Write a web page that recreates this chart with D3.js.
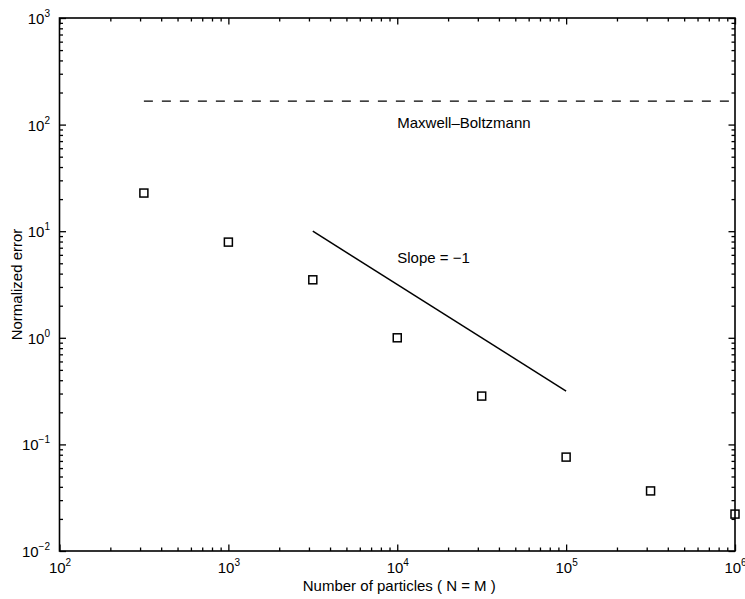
<!DOCTYPE html>
<html>
<head>
<meta charset="utf-8">
<script src="https://cdn.jsdelivr.net/npm/d3@7"></script>
<style>
  body { margin: 0; background: #fff; }
  svg { font-family: "Liberation Sans", Arial, Helvetica, sans-serif; }
</style>
</head>
<body>
<svg width="745" height="599"></svg>
<script>
// data
const particles = [316, 1000, 3162, 10000, 31623, 100000, 316228, 1000000];
const errors = [22.8, 7.9, 3.5, 1.0, 0.284, 0.076, 0.0366, 0.0222];
const mbLevel = 166;
const mbRange = [316, 1000000];
const slopeN = [3162, 100000];
const slopeErr = [10, 0.316];
const xDecades = [2, 3, 4, 5, 6];
const yDecades = [-2, -1, 0, 1, 2, 3];

const svg = d3.select("svg");
const plotL = 59.5, plotR = 735, plotT = 18, plotB = 551;

const x = d3.scaleLog().domain([1e2, 1e6]).range([plotL, plotR]);
const y = d3.scaleLog().domain([1e-2, 1e3]).range([plotB, plotT]);

// minor ticks 2..9 of each decade
const minors = (decades) => {
  const out = [];
  decades.slice(0, -1).forEach((d) => {
    for (let k = 2; k <= 9; k++) out.push(k * Math.pow(10, d));
  });
  return out;
};
const xMajor = xDecades.map((d) => Math.pow(10, d));
const yMajor = yDecades.map((d) => Math.pow(10, d));

// ===========================================================================
// frame + ticks (inward, on all four sides)
// ===========================================================================
const g = svg.append("g");

function drawAxis(axisFn, scale, major, minor, transform) {
  const a = g.append("g").attr("transform", transform);
  a.call(axisFn(scale).tickValues(minor).tickSize(-3.5).tickFormat(""));
  a.select(".domain").remove();
  const b = g.append("g").attr("transform", transform);
  b.call(axisFn(scale).tickValues(major).tickSize(-6.5).tickFormat(""));
  b.select(".domain").remove();
  g.selectAll(".tick line").attr("stroke", "#000").attr("stroke-width", 1.3);
  return b;
}

const bx = drawAxis(d3.axisBottom, x, xMajor, minors(xDecades), `translate(0,${plotB})`);
drawAxis(d3.axisTop, x, xMajor, minors(xDecades), `translate(0,${plotT})`);
const by = drawAxis(d3.axisLeft, y, yMajor, minors(yDecades), `translate(${plotL},0)`);
drawAxis(d3.axisRight, y, yMajor, minors(yDecades), `translate(${plotR},0)`);

g.append("rect")
  .attr("x", plotL)
  .attr("y", plotT)
  .attr("width", plotR - plotL)
  .attr("height", plotB - plotT)
  .attr("fill", "none")
  .attr("stroke", "#000")
  .attr("stroke-width", 1.6);

// power-of-ten labels
bx.selectAll(".tick text").each(function (d) {
  const t = d3.select(this).text(null).attr("y", 22).attr("dy", null)
    .attr("fill", "#000").attr("font-size", 15).attr("text-anchor", "middle");
  t.append("tspan").text("10");
  t.append("tspan").attr("dy", -7).attr("font-size", 10).text(Math.round(Math.log10(d)));
});

by.selectAll(".tick text").each(function (d) {
  const t = d3.select(this).text(null).attr("x", -9.5).attr("dy", 5.5)
    .attr("fill", "#000").attr("font-size", 15).attr("text-anchor", "end");
  t.append("tspan").text("10");
  const e = Math.round(Math.log10(d));
  t.append("tspan").attr("dy", -7).attr("font-size", 10).text(e < 0 ? "\u2212" + -e : e);
});

// ===========================================================================
// series
// ===========================================================================
svg.append("line")
  .attr("x1", x(mbRange[0]))
  .attr("x2", x(mbRange[1]))
  .attr("y1", y(mbLevel))
  .attr("y2", y(mbLevel))
  .attr("stroke", "#000")
  .attr("stroke-width", 1.2)
  .attr("stroke-dasharray", "9,9");

svg.append("line")
  .attr("x1", x(slopeN[0]))
  .attr("x2", x(slopeN[1]))
  .attr("y1", y(slopeErr[0]))
  .attr("y2", y(slopeErr[1]))
  .attr("stroke", "#000")
  .attr("stroke-width", 1.5);

svg.append("g")
  .selectAll("rect")
  .data(particles.map((n, i) => [n, errors[i]]))
  .enter()
  .append("rect")
  .attr("x", (d) => x(d[0]) - 4)
  .attr("y", (d) => y(d[1]) - 4)
  .attr("width", 8)
  .attr("height", 8)
  .attr("fill", "none")
  .attr("stroke", "#000")
  .attr("stroke-width", 1.5);

// ===========================================================================
// annotations + titles
// ===========================================================================
svg.append("text")
  .attr("x", x(1e4))
  .attr("y", y(mbLevel) + 27)
  .attr("font-size", 15)
  .text("Maxwell\u2013Boltzmann");

svg.append("text")
  .attr("x", x(1e4))
  .attr("y", 263)
  .attr("font-size", 15)
  .text("Slope = \u22121");

svg.append("text")
  .attr("x", (plotL + plotR) / 2 + 2)
  .attr("y", 591)
  .attr("text-anchor", "middle")
  .attr("font-size", 15)
  .text("Number of particles ( N = M )");

svg.append("text")
  .attr("transform", `translate(22,${(plotT + plotB) / 2}) rotate(-90)`)
  .attr("text-anchor", "middle")
  .attr("font-size", 15)
  .text("Normalized error");
</script>
</body>
</html>
